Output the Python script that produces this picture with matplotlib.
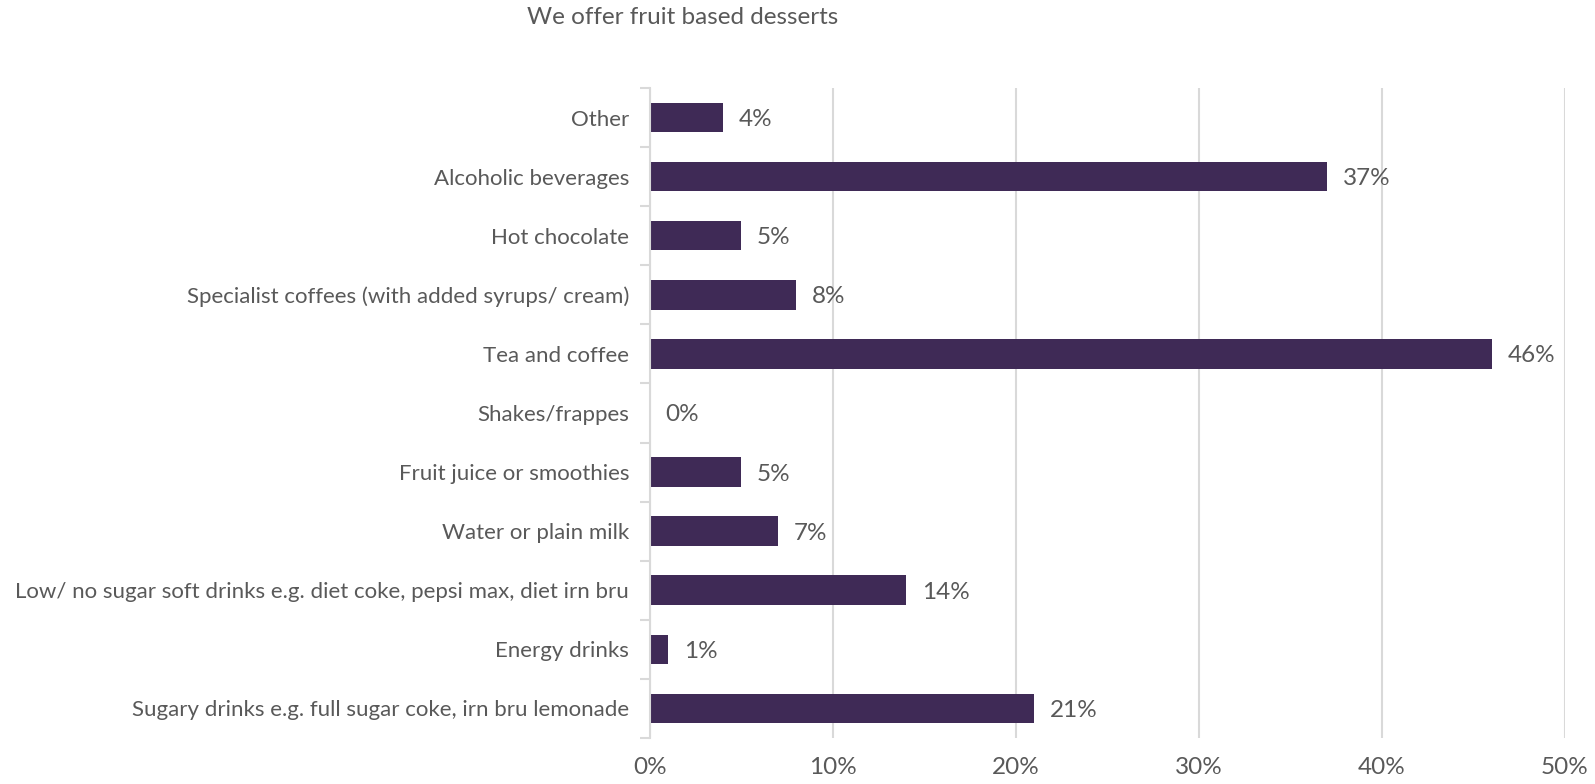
import numpy as np
import matplotlib
matplotlib.use("Agg")
import matplotlib.pyplot as plt
from matplotlib.ticker import FuncFormatter, FixedLocator

plt.rcParams['font.family'] = ['Lato', 'DejaVu Sans']

# categories listed bottom to top
categories = [
    "Sugary drinks e.g. full sugar coke, irn bru lemonade",
    "Energy drinks",
    "Low/ no sugar soft drinks e.g. diet coke, pepsi max, diet irn bru",
    "Water or plain milk",
    "Fruit juice or smoothies",
    "Shakes/frappes",
    "Tea and coffee",
    "Specialist coffees (with added syrups/ cream)",
    "Hot chocolate",
    "Alcoholic beverages",
    "Other",
]
values = [21, 1, 14, 7, 5, 0, 46, 8, 5, 37, 4]
x_ticks = [0, 10, 20, 30, 40, 50]
title = "We offer fruit based desserts"

bar_color = "#3F2A56"
text_color = "#595959"
grid_color = "#D9D9D9"

fig = plt.figure(figsize=(15.95, 7.84), dpi=100)
ax = fig.add_axes([0.4075, 0.0587, 0.5737, 0.8291])

y = np.arange(len(categories))
ax.barh(y, values, height=0.5, color=bar_color, zorder=3)

for yi, v in zip(y, values):
    ax.text(v + 0.85, yi, f"{v}%", va="center_baseline", ha="left",
            fontsize=17.5, color=text_color)

ax.set_xlim(0, 50)
ax.set_ylim(-0.5, len(categories) - 0.5)
ax.set_xticks(x_ticks)
ax.xaxis.set_major_formatter(FuncFormatter(lambda v, p: f"{v:.0f}%"))
ax.tick_params(axis="x", length=0, labelsize=17.5, labelcolor=text_color, pad=14)
ax.grid(axis="x", color=grid_color, linewidth=1.5, zorder=0)

# category labels in the middle, ticks on the boundaries
ax.set_yticks(y)
ax.set_yticklabels(categories)
ax.tick_params(axis="y", which="major", length=0, labelsize=16,
               labelcolor=text_color, pad=15)
ax.yaxis.set_minor_locator(FixedLocator(np.arange(len(categories) + 1) - 0.5))
ax.tick_params(axis="y", which="minor", length=7, width=1.5, color=grid_color)

for s in ["top", "right", "bottom"]:
    ax.spines[s].set_visible(False)
ax.spines["left"].set_color(grid_color)
ax.spines["left"].set_linewidth(1.5)
ax.spines["left"].set_zorder(4)

fig.text(683 / 1595, 1 - 18 / 784, title, ha="center", va="center",
         fontsize=17.5, color=text_color)

fig.savefig("out.png", dpi=100)
